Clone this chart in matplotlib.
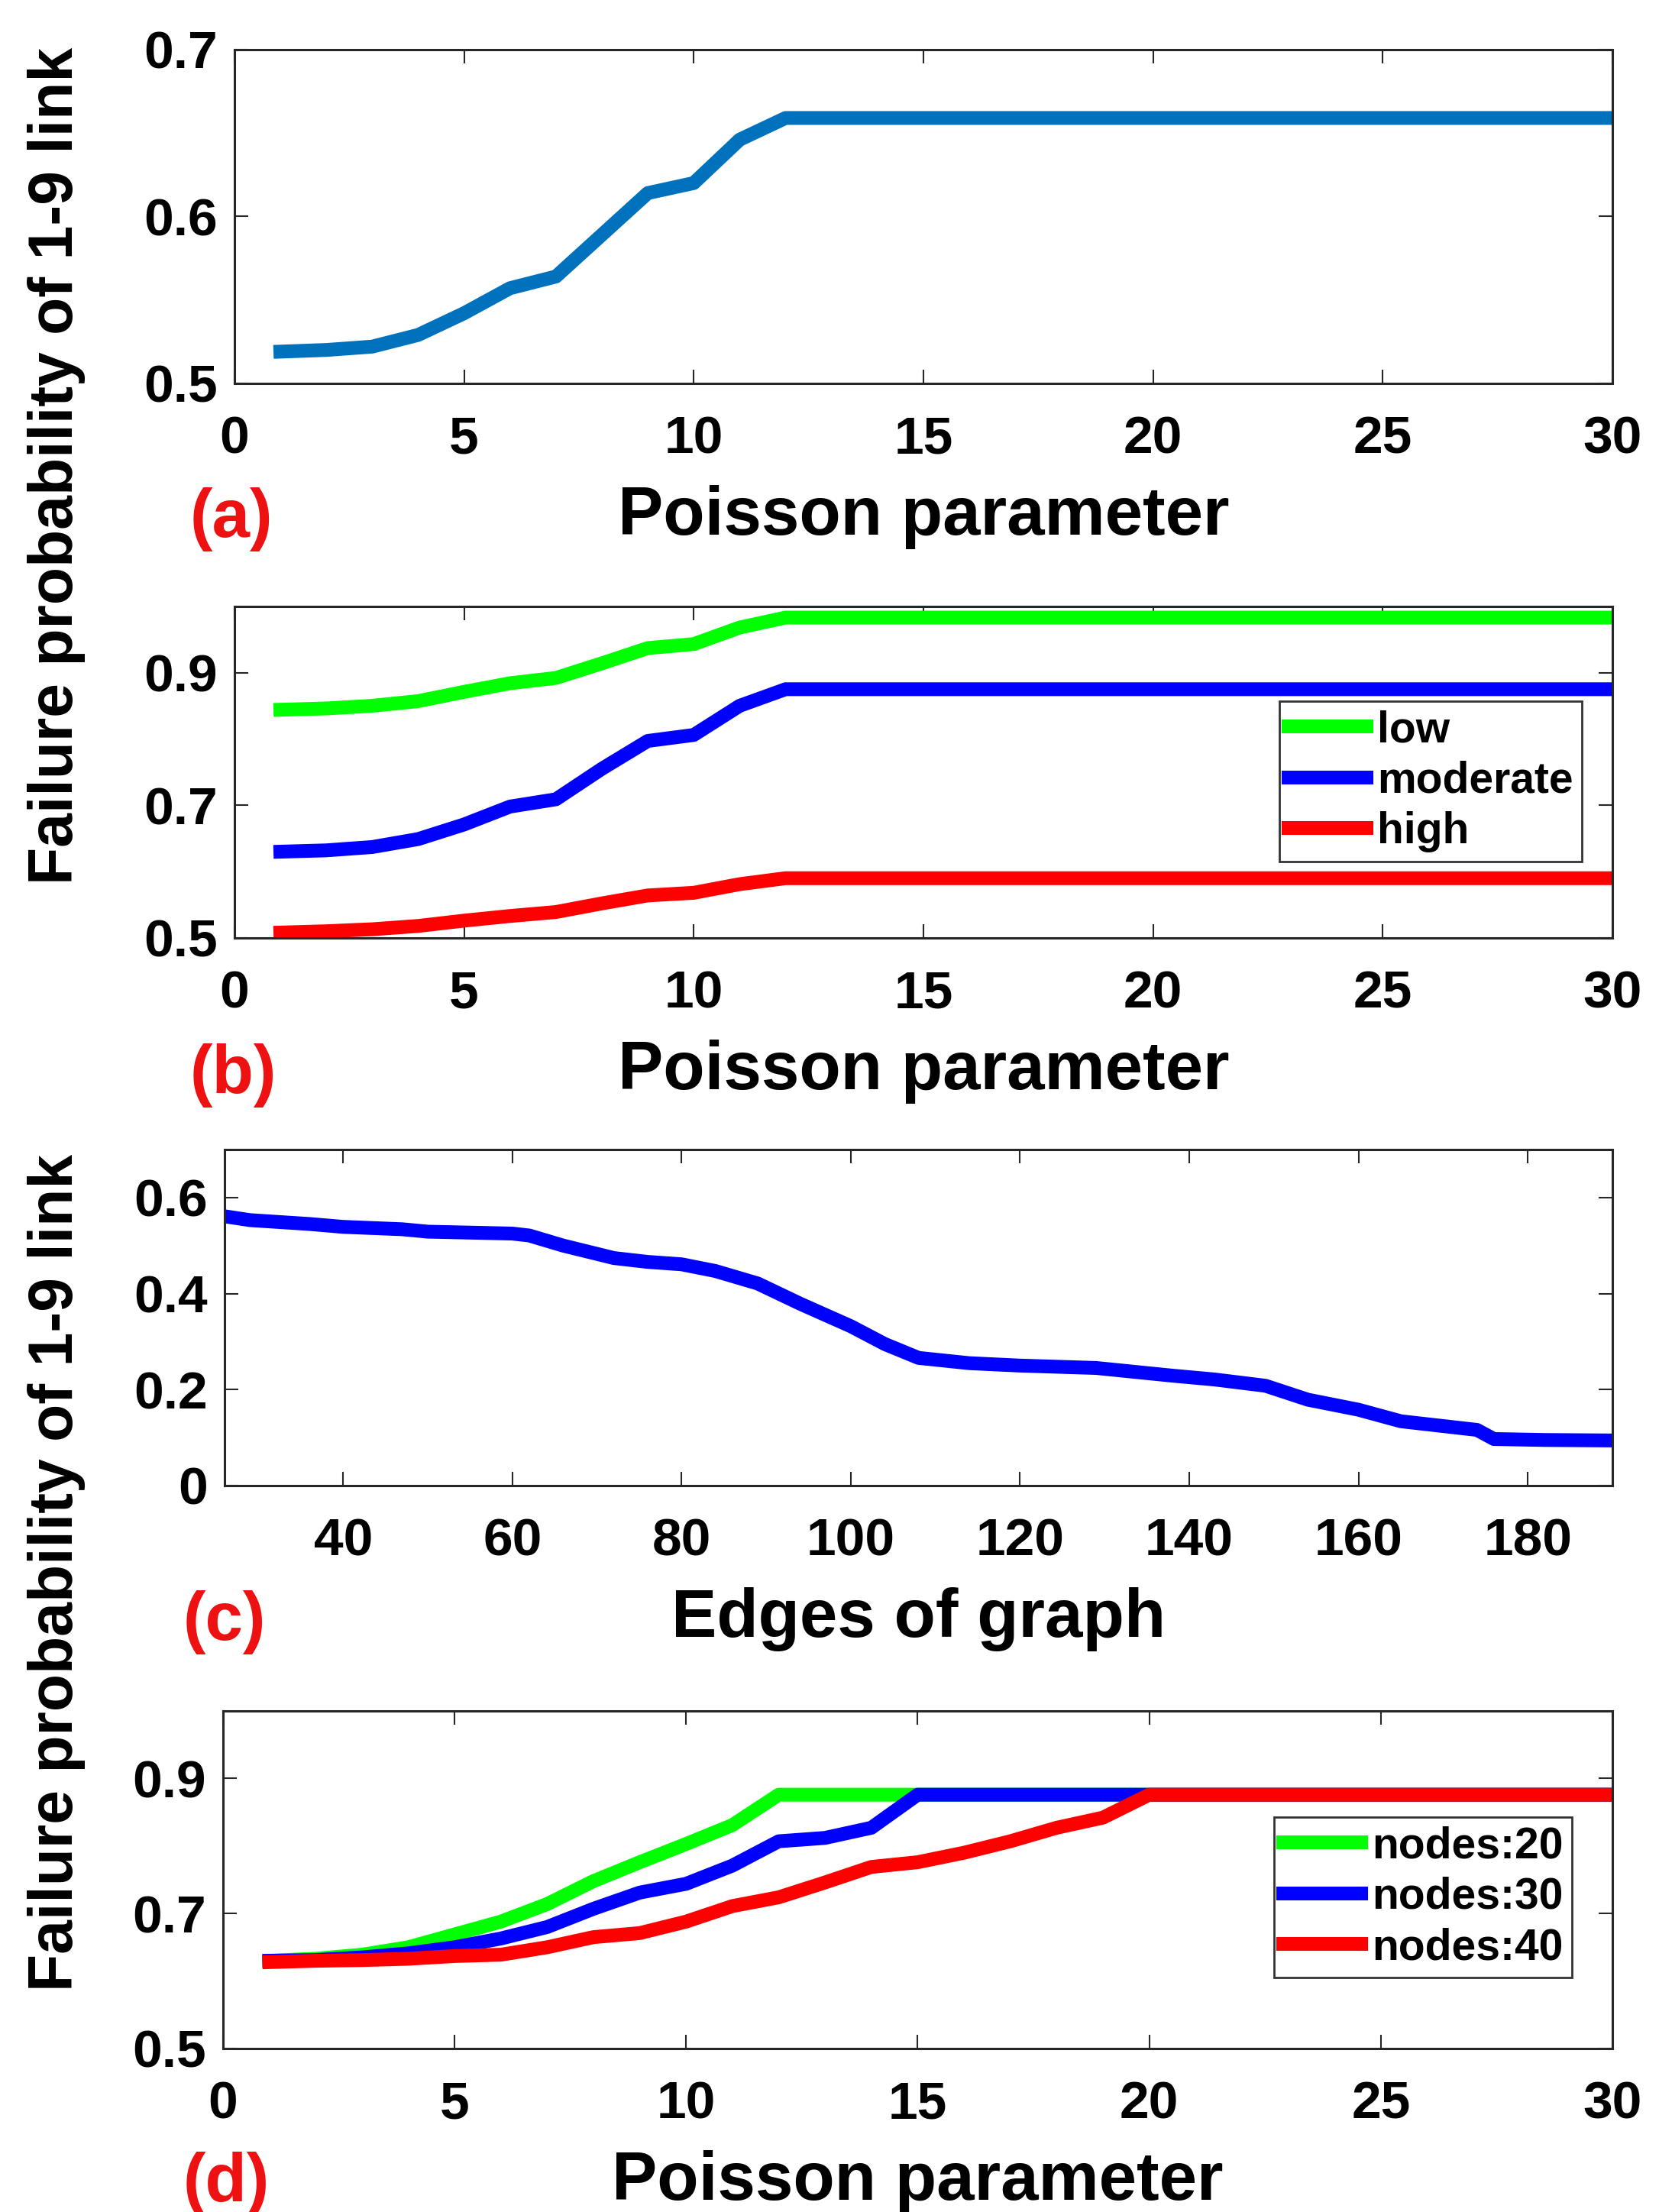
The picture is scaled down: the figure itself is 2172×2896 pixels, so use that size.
import numpy as np
import matplotlib
matplotlib.use('Agg')
import matplotlib.pyplot as plt

plt.rcParams['font.family'] = ['Liberation Sans', 'DejaVu Sans']
plt.rcParams['font.weight'] = 'bold'

# panel (a)
poissonA = list(range(1, 31))
probA = [0.519, 0.520, 0.522, 0.529, 0.542, 0.557, 0.564, 0.589, 0.614, 0.620, 0.646, 0.659] + [0.659] * 18

# panel (b)
poissonB = list(range(1, 31))
probLow = [0.844, 0.846, 0.850, 0.857, 0.871, 0.884, 0.892, 0.914, 0.937, 0.943, 0.968, 0.983] + [0.983] * 18
probModerate = [0.630, 0.632, 0.637, 0.649, 0.671, 0.698, 0.709, 0.755, 0.797, 0.806, 0.850, 0.875] + [0.875] * 18
probHigh = [0.508, 0.510, 0.513, 0.518, 0.526, 0.533, 0.539, 0.552, 0.564, 0.568, 0.581, 0.590] + [0.590] * 18
labelsB = ['low', 'moderate', 'high']

# panel (c)
edges = [26, 29, 36, 40, 47, 50, 60, 62, 66, 72, 76, 80, 84, 89, 94, 100, 104, 108,
         114, 120, 129, 138, 143, 149, 154, 160, 165, 170, 174, 176, 182, 190]
probC = [0.561, 0.553, 0.545, 0.539, 0.534, 0.529, 0.525, 0.521, 0.500, 0.474, 0.466, 0.461,
         0.447, 0.421, 0.379, 0.332, 0.295, 0.266, 0.255, 0.250, 0.245, 0.229, 0.221, 0.208,
         0.179, 0.158, 0.134, 0.124, 0.116, 0.097, 0.095, 0.094]

# panel (d)
poissonD = list(range(1, 31))
probN20 = [0.630, 0.633, 0.639, 0.650, 0.669, 0.688, 0.714, 0.748, 0.776, 0.803, 0.831, 0.876] + [0.876] * 18
probN30 = [0.630, 0.631, 0.635, 0.641, 0.650, 0.663, 0.680, 0.707, 0.731, 0.744, 0.771, 0.807,
           0.812, 0.827, 0.876] + [0.876] * 15
probN40 = [0.628, 0.630, 0.631, 0.633, 0.637, 0.639, 0.650, 0.665, 0.671, 0.688, 0.711, 0.724,
           0.746, 0.769, 0.776, 0.790, 0.807, 0.827, 0.842, 0.876] + [0.876] * 10
labelsD = ['nodes:20', 'nodes:30', 'nodes:40']

lw = 13
tickSize = 50
labelSize = 64
legSize = 41

fig = plt.figure(figsize=(21.72, 28.96), dpi=100)
fig.patch.set_facecolor('white')

def styleAxes(ax):
	for sp in ax.spines.values():
		sp.set_linewidth(2.2)
		sp.set_color('#262626')
	ax.tick_params(direction='in', length=13, width=1.5, top=True, right=True,
				   labelsize=tickSize, colors='#262626')
	ax.tick_params(axis='x', pad=30)
	ax.tick_params(axis='y', pad=16)
	for lab in ax.get_xticklabels() + ax.get_yticklabels():
		lab.set_fontweight('bold')
		lab.set_color('black')

def fmt(v):
	if v == 0:
		return '0'
	return ('%.1f' % v)

def legendStyle(ax, handles, labels, anchor):
	leg = ax.legend(handles, labels, loc='upper right', bbox_to_anchor=anchor, fancybox=False,
					edgecolor='black', prop={'weight': 'bold', 'size': legSize},
					handlelength=1.8, handletextpad=0.25, labelspacing=0.22, borderpad=0.2,
					borderaxespad=0)
	leg.get_frame().set_linewidth(2)
	return leg

axA = fig.add_axes([0.1413, 0.8267, 0.8306, 0.1509])
axA.plot(poissonA, probA, color='#0072BD', lw=lw)
axA.set_xlim(0, 30)
axA.set_ylim(0.5, 0.7)
axA.set_xticks(range(0, 31, 5))
axA.set_yticks([0.5, 0.6, 0.7])
axA.set_yticklabels([fmt(v) for v in [0.5, 0.6, 0.7]])
styleAxes(axA)
axA.set_xlabel('Poisson parameter', fontsize=labelSize, fontweight='bold', labelpad=20)

axB = fig.add_axes([0.1413, 0.5760, 0.8306, 0.1499])
lineLow, = axB.plot(poissonB, probLow, color='#00ff00', lw=lw)
lineMod, = axB.plot(poissonB, probModerate, color='#0000ff', lw=lw)
lineHigh, = axB.plot(poissonB, probHigh, color='#ff0000', lw=lw)
axB.set_xlim(0, 30)
axB.set_ylim(0.5, 1.0)
axB.set_xticks(range(0, 31, 5))
axB.set_yticks([0.5, 0.7, 0.9])
axB.set_yticklabels([fmt(v) for v in [0.5, 0.7, 0.9]])
styleAxes(axB)
axB.set_xlabel('Poisson parameter', fontsize=labelSize, fontweight='bold', labelpad=20)
legendStyle(axB, [lineLow, lineMod, lineHigh], labelsB, (0.978, 0.714))

axC = fig.add_axes([0.1354, 0.3284, 0.8365, 0.1519])
axC.plot(edges, probC, color='#0000ff', lw=lw)
axC.set_xlim(26, 190)
axC.set_ylim(0, 0.7)
axC.set_xticks(range(40, 181, 20))
axC.set_yticks([0, 0.2, 0.4, 0.6])
axC.set_yticklabels([fmt(v) for v in [0, 0.2, 0.4, 0.6]])
styleAxes(axC)
axC.set_xlabel('Edges of graph', fontsize=labelSize, fontweight='bold', labelpad=20)

axD = fig.add_axes([0.1344, 0.0739, 0.8375, 0.1526])
l20, = axD.plot(poissonD, probN20, color='#00ff00', lw=lw)
l30, = axD.plot(poissonD, probN30, color='#0000ff', lw=lw)
l40, = axD.plot(poissonD, probN40, color='#ff0000', lw=lw)
axD.set_xlim(0, 30)
axD.set_ylim(0.5, 1.0)
axD.set_xticks(range(0, 31, 5))
axD.set_yticks([0.5, 0.7, 0.9])
axD.set_yticklabels([fmt(v) for v in [0.5, 0.7, 0.9]])
styleAxes(axD)
axD.set_xlabel('Poisson parameter', fontsize=labelSize, fontweight='bold', labelpad=20)
legendStyle(axD, [l20, l30, l40], labelsD, (0.971, 0.686))

for lab, xx, yy in [('(a)', 249, 680), ('(b)', 249, 1408), ('(c)', 240, 2124), ('(d)', 240, 2859)]:
	fig.text(xx / 2172.0, 1 - yy / 2896.0, lab, color='#ee1111',
			 fontsize=labelSize, fontweight='bold', va='center', ha='left')

fig.text(74 / 2172.0, 1 - 610 / 2896.0, 'Failure probability of 1-9 link', rotation=90,
		 fontsize=labelSize - 6, fontweight='bold', va='center', ha='center')
fig.text(74 / 2172.0, 1 - 2059 / 2896.0, 'Failure probability of 1-9 link', rotation=90,
		 fontsize=labelSize - 6, fontweight='bold', va='center', ha='center')

fig.savefig('out.png', dpi=100, facecolor='white')
